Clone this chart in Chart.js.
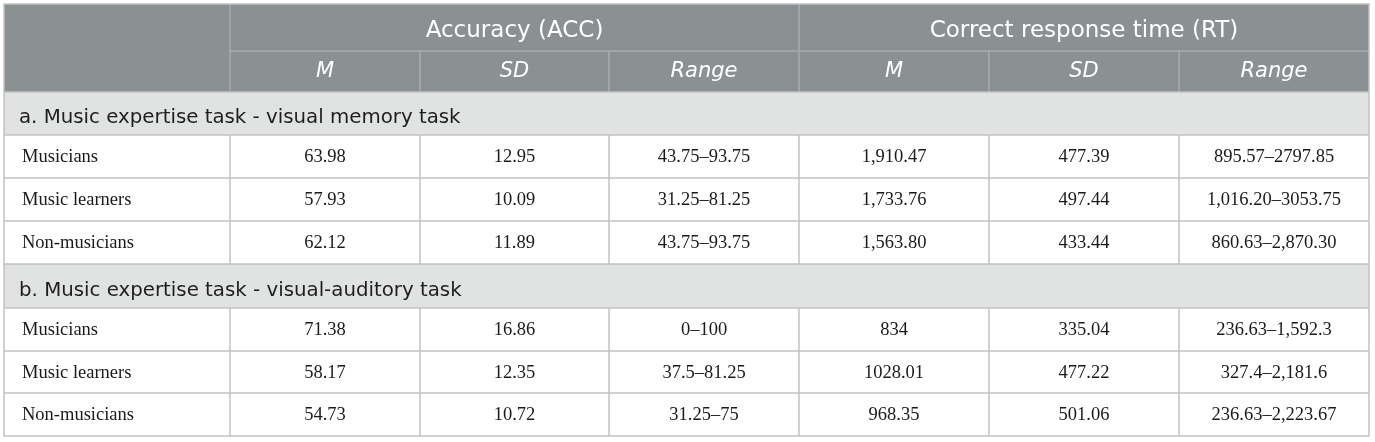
<!DOCTYPE html>
<html>
<head>
<meta charset="utf-8">
<script src="https://cdn.jsdelivr.net/npm/chart.js@4"></script>
<style>
html,body{margin:0;padding:0;background:#fff;}
#wrap{width:1375px;height:442px;}
</style>
</head>
<body>
<div id="wrap"><canvas id="c" width="1375" height="442"></canvas></div>
<script>
// ---- data ----
const groupHeaders = ['Accuracy (ACC)', 'Correct response time (RT)'];
const subHeaders = ['M', 'SD', 'Range', 'M', 'SD', 'Range'];
const sections = ['a. Music expertise task - visual memory task', 'b. Music expertise task - visual-auditory task'];
const groups = ['Musicians', 'Music learners', 'Non-musicians'];

const accMeanA = ['63.98', '57.93', '62.12'];
const accSdA = ['12.95', '10.09', '11.89'];
const accRangeA = ['43.75–93.75', '31.25–81.25', '43.75–93.75'];
const rtMeanA = ['1,910.47', '1,733.76', '1,563.80'];
const rtSdA = ['477.39', '497.44', '433.44'];
const rtRangeA = ['895.57–2797.85', '1,016.20–3053.75', '860.63–2,870.30'];

const accMeanB = ['71.38', '58.17', '54.73'];
const accSdB = ['16.86', '12.35', '10.72'];
const accRangeB = ['0–100', '37.5–81.25', '31.25–75'];
const rtMeanB = ['834', '1028.01', '968.35'];
const rtSdB = ['335.04', '477.22', '501.06'];
const rtRangeB = ['236.63–1,592.3', '327.4–2,181.6', '236.63–2,223.67'];

// ---- layout / style (not data) ----
const colWeights = [226, 190, 189, 190, 190, 190, 190];
const rowWeights = [47, 41, 43, 43, 43, 43, 44, 43, 42, 43];
const HEADER_BG = '#8b9093';
const SECTION_BG = '#e1e3e2';
const HEADER_LINE = '#a8adb0';
const BODY_LINE = '#c2c2c2';
const SANS = '"DejaVu Sans", "Open Sans", sans-serif';
const SERIF = '"Liberation Serif", "DejaVu Serif", serif';

const colEdges = [0];
colWeights.forEach(w => colEdges.push(colEdges[colEdges.length - 1] + w));
const rowEdges = [0];
rowWeights.forEach(w => rowEdges.push(rowEdges[rowEdges.length - 1] + w));
const totalW = colEdges[colEdges.length - 1];
const totalH = rowEdges[rowEdges.length - 1];
const colMid = i => (colEdges[i] + colEdges[i + 1]) / 2;
const rowMid = r => (rowEdges[r] + rowEdges[r + 1]) / 2;

// build cell list
const cells = [];
groupHeaders.forEach((t, g) => {
  cells.push({x: (colEdges[1 + g * 3] + colEdges[4 + g * 3]) / 2, y: rowMid(0), text: t, kind: 'head', align: 'center'});
});
subHeaders.forEach((t, i) => {
  cells.push({x: colMid(i + 1), y: rowMid(1), text: t, kind: 'sub', align: 'center'});
});
const blocks = [
  [accMeanA, accSdA, accRangeA, rtMeanA, rtSdA, rtRangeA],
  [accMeanB, accSdB, accRangeB, rtMeanB, rtSdB, rtRangeB]
];
const sectionRows = [2, 6];
sections.forEach((t, s) => {
  const r0 = sectionRows[s];
  cells.push({x: 0, y: rowMid(r0), text: t, kind: 'section', align: 'left'});
  groups.forEach((g, k) => {
    const r = r0 + 1 + k;
    cells.push({x: 0, y: rowMid(r), text: g, kind: 'label', align: 'left'});
    blocks[s].forEach((col, c) => {
      cells.push({x: colMid(c + 1), y: rowMid(r), text: col[k], kind: 'value', align: 'center'});
    });
  });
});

const tablePlugin = {
  id: 'tablePlugin',
  beforeDatasetsDraw(chart) {
    const {ctx, scales: {x, y}} = chart;
    const X = v => x.getPixelForValue(v);
    const Y = v => y.getPixelForValue(v);
    ctx.save();
    ctx.fillStyle = HEADER_BG;
    ctx.fillRect(X(0), Y(0), X(totalW) - X(0), Y(rowEdges[2]) - Y(0));
    ctx.fillStyle = SECTION_BG;
    sectionRows.forEach(r => {
      ctx.fillRect(X(0), Y(rowEdges[r]), X(totalW) - X(0), Y(rowEdges[r + 1]) - Y(rowEdges[r]));
    });
    ctx.lineWidth = 1.5;
    const line = (x1, y1, x2, y2, col) => {
      ctx.strokeStyle = col;
      ctx.beginPath();
      ctx.moveTo(X(x1), Y(y1));
      ctx.lineTo(X(x2), Y(y2));
      ctx.stroke();
    };
    line(colEdges[1], rowEdges[1], totalW, rowEdges[1], HEADER_LINE);
    [1, 4].forEach(c => line(colEdges[c], rowEdges[0], colEdges[c], rowEdges[1], HEADER_LINE));
    for (let c = 1; c < colWeights.length; c++) line(colEdges[c], rowEdges[1], colEdges[c], rowEdges[2], HEADER_LINE);
    for (let r = 2; r < rowWeights.length; r++) line(0, rowEdges[r], totalW, rowEdges[r], BODY_LINE);
    for (let r = 2; r < rowWeights.length; r++) {
      if (sectionRows.includes(r)) continue;
      for (let c = 1; c < colWeights.length; c++) line(colEdges[c], rowEdges[r], colEdges[c], rowEdges[r + 1], BODY_LINE);
    }
    ctx.strokeStyle = BODY_LINE;
    ctx.strokeRect(X(0), Y(0), X(totalW) - X(0), Y(totalH) - Y(0));
    ctx.restore();
  },
  afterDatasetsDraw(chart) {
    const {ctx} = chart;
    const meta = chart.getDatasetMeta(0);
    ctx.save();
    meta.data.forEach((pt, i) => {
      const cell = cells[i];
      let font, color, dx = 0, dy, base = 'alphabetic';
      if (cell.kind === 'head') { font = '23px ' + SANS; color = '#ffffff'; dy = 9.2; }
      else if (cell.kind === 'sub') { font = 'oblique 21px ' + SANS; color = '#ffffff'; dy = 5.8; }
      else if (cell.kind === 'section') { font = '19.8px ' + SANS; color = '#1e1e1e'; dx = 15; dy = 9.8; }
      else if (cell.kind === 'label') { font = '18.5px ' + SERIF; color = '#1a1a1a'; dx = 18; dy = 1; base = 'middle'; }
      else { font = '18.5px ' + SERIF; color = '#1a1a1a'; dy = 1; base = 'middle'; }
      ctx.font = font;
      ctx.textBaseline = base;
      ctx.fillStyle = color;
      ctx.textAlign = cell.align;
      ctx.fillText(cell.text, pt.x + dx, pt.y + dy);
    });
    ctx.restore();
  }
};

new Chart(document.getElementById('c'), {
  type: 'scatter',
  data: {
    datasets: [{
      data: cells.map(c => ({x: c.x, y: c.y})),
      pointRadius: 0,
      pointHoverRadius: 0
    }]
  },
  options: {
    responsive: false,
    animation: false,
    events: [],
    layout: {padding: {left: 4, top: 4, right: 6, bottom: 6}},
    plugins: {legend: {display: false}, tooltip: {enabled: false}},
    scales: {
      x: {type: 'linear', min: 0, max: totalW, display: false},
      y: {type: 'linear', min: 0, max: totalH, reverse: true, display: false}
    }
  },
  plugins: [tablePlugin]
});
</script>
</body>
</html>
